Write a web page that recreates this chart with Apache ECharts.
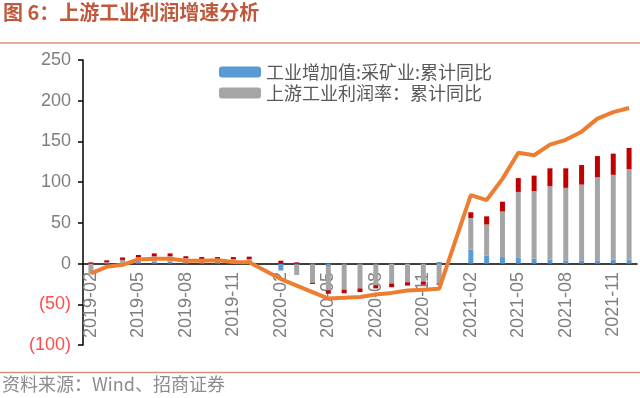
<!DOCTYPE html>
<html>
<head>
<meta charset="utf-8">
<script src="https://cdn.jsdelivr.net/npm/echarts@6/dist/echarts.min.js"></script>
<style>
	html, body { margin: 0; padding: 0; background: #fff; }
	#chart { width: 640px; height: 398px; }
</style>
</head>
<body>
<div id="chart"></div>
<script>
// months 2019-02 .. 2021-12, January has no data (combined with Feb)
var months = [
	'2019-02','2019-03','2019-04','2019-05','2019-06','2019-07','2019-08','2019-09','2019-10','2019-11','2019-12',
	'2020-01','2020-02','2020-03','2020-04','2020-05','2020-06','2020-07','2020-08','2020-09','2020-10','2020-11','2020-12',
	'2021-01','2021-02','2021-03','2021-04','2021-05','2021-06','2021-07','2021-08','2021-09','2021-10','2021-11','2021-12'
];
var miningValueAdded = [
	0, 0.5, 1, 2, 2.5, 2.5, 2, 2, 2, 2, 2,
	null, -8.5, -1, -1, -3, -1, -1, -1, -0.5, -0.5, -0.5, 2,
	null, 17, 10, 8, 7, 6, 5, 4, 4, 4, 5, 5
];
var upstreamMargin = [
	-13, 1, 3.5, 5.5, 6.5, 6.5, 4.5, 3.5, 3.5, 3.5, 3.5,
	null, 0, -13, -22.5, -30, -31, -29.5, -25.5, -24, -22.5, -21.5, -24.5,
	null, 39, 38, 56, 81, 83, 90, 89, 93, 102, 104, 111
];
var otherPart = [
	1.5, 2.5, 3, 3, 3.5, 3.5, 2.5, 2.5, 2.5, 2.5, 3,
	null, 3.5, 1.5, -1.5, -4, -4.5, -4.5, -4, -4.5, -4, -4, -1.5,
	null, 7, 10, 12, 17, 19, 22, 24, 24, 26, 26, 26
];
var upstreamProfit = [
	-12, -4, -1.5, 5, 6, 6, 3.5, 3.5, 4, 2, 1.5,
	null, -19, -27, -35, -43, -42, -41, -38, -36, -33, -32, -31,
	null, 84, 78, 104, 136, 133, 146, 152, 162, 178, 186, 191
];
var legendNames = ['工业增加值:采矿业:累计同比', '上游工业利润率：累计同比'];

var myChart = echarts.init(document.getElementById('chart'));
var font = '"Liberation Sans", Arial, "Noto Sans CJK SC", sans-serif';

myChart.setOption({
	animation: false,
	textStyle: { fontFamily: font },
	graphic: [
		{ type: 'text', left: 3, top: 2,
		  style: { text: '图 6：上游工业利润增速分析', fill: '#c0583c', font: 'bold 20px "Noto Sans CJK SC", sans-serif' } },
		{ type: 'line', shape: { x1: 0, y1: 43, x2: 640, y2: 43 }, style: { stroke: '#d9927a', lineWidth: 1.5 } },
		{ type: 'line', shape: { x1: 0, y1: 372.5, x2: 640, y2: 372.5 }, style: { stroke: '#d9927a', lineWidth: 1.5 } },
		{ type: 'text', left: 2, top: 375,
		  style: { text: '资料来源：Wind、招商证券', fill: '#8c8c8c', font: '18px "Noto Sans CJK SC", sans-serif' } }
	],
	legend: {
		data: legendNames,
		orient: 'vertical',
		left: 214,
		top: 58,
		itemWidth: 42,
		itemHeight: 11,
		itemGap: 3,
		textStyle: { fontSize: 18, color: '#595959', fontFamily: '"Noto Sans CJK SC", sans-serif' }
	},
	grid: { left: 83, right: 3, top: 60, bottom: 53, containLabel: false, outerBoundsMode: 'none' },
	xAxis: {
		type: 'category',
		data: months,
		axisLine: { onZero: true, lineStyle: { color: '#000', width: 1.5 } },
		axisTick: { interval: 2, length: 6, lineStyle: { color: '#000', width: 1.5 } },
		// labels sit at the grid bottom, pull them up to the zero line
		axisLabel: { interval: 2, rotate: 90, margin: -73, fontSize: 18, color: '#7f7f7f' }
	},
	yAxis: {
		type: 'value',
		min: -100,
		max: 250,
		interval: 50,
		splitLine: { show: false },
		axisLine: { show: true, lineStyle: { color: '#000', width: 1.5 } },
		axisTick: { show: true, length: 5, lineStyle: { color: '#000', width: 1.5 } },
		axisLabel: {
			margin: 12,
			fontSize: 18,
			color: '#7f7f7f',
			formatter: function (v) {
				return v < 0 ? '{neg|(' + Math.abs(v) + ')}' : '' + v;
			},
			rich: { neg: { color: '#ff4d4d', fontSize: 18 } }
		}
	},
	series: [
		{ name: legendNames[0], type: 'bar', stack: 'up', barWidth: 5,
		  itemStyle: { color: '#5b9bd5' }, data: miningValueAdded },
		{ name: legendNames[1], type: 'bar', stack: 'up', barWidth: 5,
		  itemStyle: { color: '#a5a5a5' }, data: upstreamMargin },
		{ name: '其他', type: 'bar', stack: 'up', barWidth: 5,
		  itemStyle: { color: '#c00000' }, data: otherPart },
		{ name: '上游工业利润：累计同比', type: 'line', z: 5, symbol: 'none', connectNulls: true,
		  lineStyle: { color: '#ed7d31', width: 4 }, itemStyle: { color: '#ed7d31' }, data: upstreamProfit }
	]
});
</script>
</body>
</html>
